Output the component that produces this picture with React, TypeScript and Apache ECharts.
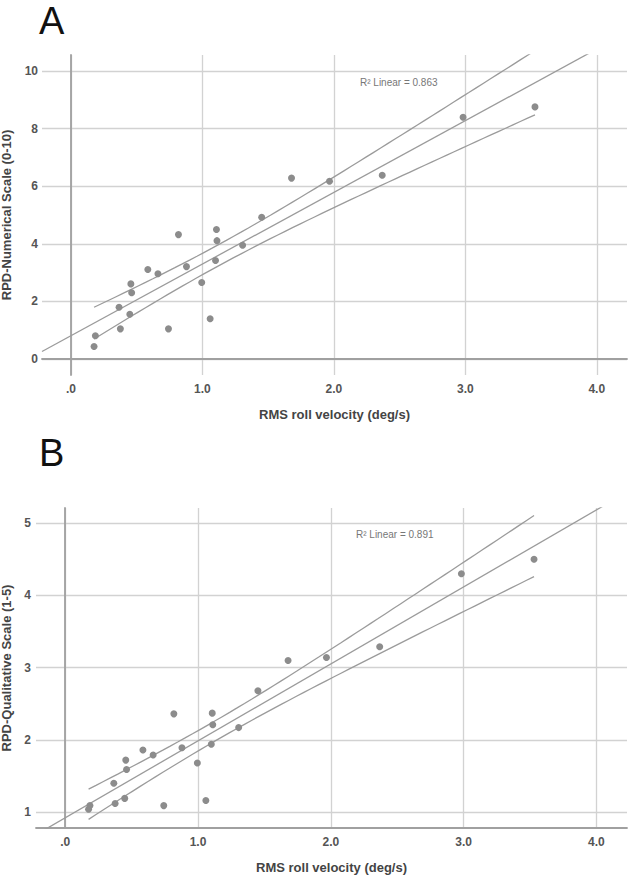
import React, { useEffect, useRef } from 'react';
import * as echarts from 'echarts';

// RMS roll velocity (deg/s) per subject
const rollVelocity = [0.176, 0.186, 0.366, 0.376, 0.448, 0.456, 0.462, 0.585, 0.662, 0.742, 0.818, 0.879, 0.995, 1.059, 1.1, 1.107, 1.111, 1.306, 1.451, 1.678, 1.967, 2.368, 2.983, 3.53];
// RPD-Numerical Scale (0-10)
const numericalScale = [0.44, 0.81, 1.8, 1.05, 1.56, 2.61, 2.3, 3.11, 2.96, 1.05, 4.32, 3.21, 2.66, 1.4, 3.42, 4.5, 4.11, 3.95, 4.92, 6.28, 6.17, 6.38, 8.39, 8.75];
// RPD-Qualitative Scale (1-5)
const qualitativeScale = [1.04, 1.09, 1.4, 1.12, 1.19, 1.72, 1.59, 1.86, 1.79, 1.09, 2.36, 1.89, 1.68, 1.16, 1.94, 2.37, 2.21, 2.17, 2.68, 3.1, 3.14, 3.29, 4.3, 4.5];

const xTicks = [0, 1, 2, 3, 4];
const yTicksA = [0, 2, 4, 6, 8, 10];
const yTicksB = [1, 2, 3, 4, 5];
const r2LabelA = 'R² Linear = 0.863';
const r2LabelB = 'R² Linear = 0.891';
const xName = 'RMS roll velocity (deg/s)';
const yNameA = 'RPD-Numerical Scale (0-10)';
const yNameB = 'RPD-Qualitative Scale (1-5)';

const X_MIN = -0.22;
const X_MAX = 4.23;
const T_975 = 2.074; // t(0.975, df = 22)

const FONT = '"Liberation Sans", Arial, sans-serif';
const LINE_COLOR = '#9b9b9b';
const DOT_COLOR = '#8c8c8c';

function regression(xs: number[], ys: number[]) {
  const n = xs.length;
  const mx = xs.reduce((a, b) => a + b, 0) / n;
  const my = ys.reduce((a, b) => a + b, 0) / n;
  let sxx = 0, sxy = 0;
  for (let i = 0; i < n; i++) {
    sxx += (xs[i] - mx) ** 2;
    sxy += (xs[i] - mx) * (ys[i] - my);
  }
  const b = sxy / sxx;
  const a = my - b * mx;
  let sse = 0;
  for (let i = 0; i < n; i++) sse += (ys[i] - a - b * xs[i]) ** 2;
  const s = Math.sqrt(sse / (n - 2));
  return { a, b, s, n, mx, sxx };
}

function buildSeries(xs: number[], ys: number[], idx: number) {
  const r = regression(xs, ys);
  const fitLine = [X_MIN, X_MAX].map((x) => [x, r.a + r.b * x]);
  const lo = Math.min(...xs);
  const hi = Math.max(...xs);
  const upper: number[][] = [];
  const lower: number[][] = [];
  const steps = 60;
  for (let k = 0; k <= steps; k++) {
    const x = lo + ((hi - lo) * k) / steps;
    const yhat = r.a + r.b * x;
    const hw = T_975 * r.s * Math.sqrt(1 / r.n + (x - r.mx) ** 2 / r.sxx);
    upper.push([x, yhat + hw]);
    lower.push([x, yhat - hw]);
  }
  const lineCommon = {
    type: 'line',
    xAxisIndex: idx,
    yAxisIndex: idx,
    showSymbol: false,
    silent: true,
    clip: true,
    lineStyle: { color: LINE_COLOR, width: 1.3 },
    z: 2,
  };
  return [
    { ...lineCommon, data: fitLine },
    { ...lineCommon, data: upper },
    { ...lineCommon, data: lower },
    {
      type: 'scatter',
      xAxisIndex: idx,
      yAxisIndex: idx,
      symbolSize: 7,
      itemStyle: { color: DOT_COLOR, opacity: 1 },
      data: xs.map((x, i) => [x, ys[i]]),
      z: 3,
    },
  ];
}

function xAxis(gridIndex: number) {
  return {
    type: 'value',
    gridIndex,
    min: X_MIN,
    max: X_MAX,
    name: xName,
    nameLocation: 'middle',
    nameGap: 33,
    nameTextStyle: { fontFamily: FONT, fontWeight: 'bold', fontSize: 13, color: '#444' },
    axisLine: { show: true, lineStyle: { color: '#a0a0a0', width: 1.8 } },
    axisTick: { show: false, customValues: xTicks },
    axisLabel: {
      customValues: xTicks,
      margin: 8,
      fontFamily: FONT,
      fontWeight: 'bold',
      fontSize: 12,
      color: '#555',
      formatter: (v: number) => (v === 0 ? '.0' : v.toFixed(1)),
    },
    splitLine: { show: true, lineStyle: { color: '#d2d2d2', width: 1.3 } },
  };
}

function yAxis(gridIndex: number, min: number, max: number, ticks: number[], name: string, margin: number, nameGap: number) {
  return {
    type: 'value',
    gridIndex,
    min,
    max,
    name,
    nameLocation: 'middle',
    nameGap,
    nameTextStyle: { fontFamily: FONT, fontWeight: 'bold', fontSize: 13, color: '#444' },
    axisLine: { show: true, lineStyle: { color: '#a0a0a0', width: 1.8 } },
    axisTick: { show: false, customValues: ticks },
    axisLabel: {
      customValues: ticks,
      margin,
      fontFamily: FONT,
      fontWeight: 'bold',
      fontSize: 12,
      color: '#555',
      formatter: (v: number) => String(v),
    },
    splitLine: { show: true, lineStyle: { color: '#d2d2d2', width: 1.3 } },
  };
}

export default function App() {
  const ref = useRef<HTMLDivElement>(null);
  useEffect(() => {
    document.body.style.margin = '0';
    if (!ref.current) return;
    const chart = echarts.init(ref.current, undefined, { renderer: 'svg' });
    chart.setOption({
      animation: false,
      backgroundColor: '#ffffff',
      grid: [
        { left: 42, top: 55, width: 585, height: 320, containLabel: false, outerBoundsMode: 'none' },
        { left: 36, top: 508, width: 591, height: 320, containLabel: false, outerBoundsMode: 'none' },
      ],
      xAxis: [xAxis(0), xAxis(1)],
      yAxis: [
        yAxis(0, -0.55, 10.55, yTicksA, yNameA, 4, 29),
        yAxis(1, 0.78, 5.21, yTicksB, yNameB, 5, 23),
      ],
      graphic: [
        { type: 'text', x: 39, y: 21, style: { text: 'A', font: `normal 38px ${FONT}`, lineHeight: 30, fill: '#111', verticalAlign: 'middle' } },
        { type: 'text', x: 39, y: 453, style: { text: 'B', font: `normal 38px ${FONT}`, lineHeight: 30, fill: '#111', verticalAlign: 'middle' } },
        { type: 'text', x: 360, y: 82, style: { text: r2LabelA, font: `normal 10px ${FONT}`, fill: '#777', verticalAlign: 'middle' } },
        { type: 'text', x: 356, y: 534, style: { text: r2LabelB, font: `normal 10px ${FONT}`, fill: '#777', verticalAlign: 'middle' } },
      ],
      series: [
        ...buildSeries(rollVelocity, numericalScale, 0),
        ...buildSeries(rollVelocity, qualitativeScale, 1),
      ],
    });
    return () => chart.dispose();
  }, []);
  return <div ref={ref} style={{ width: 628, height: 875 }} />;
}
